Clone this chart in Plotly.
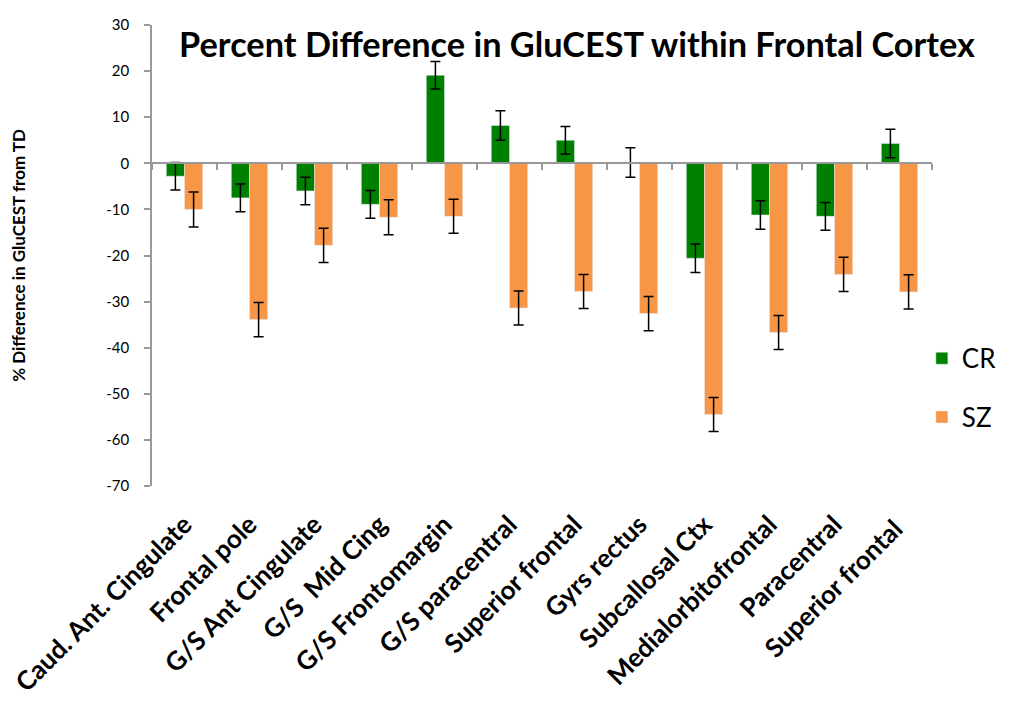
import plotly.graph_objects as go

categories = ["Caud. Ant. Cingulate", "Frontal pole", "G/S Ant Cingulate", "G/S  Mid Cing",
              "G/S Frontomargin", "G/S paracentral", "Superior frontal", "Gyrs rectus",
              "Subcallosal Ctx", "Medialorbitofrontal", "Paracentral", "Superior frontal "]
cr_values = [-2.8, -7.5, -6.0, -8.9, 19.1, 8.2, 5.0, 0.2, -20.6, -11.2, -11.5, 4.3]
cr_errors = [3.0, 3.0, 3.0, 3.0, 3.0, 3.2, 3.0, 3.2, 3.1, 3.1, 3.0, 3.1]
sz_values = [-10.0, -33.9, -17.8, -11.7, -11.5, -31.4, -27.8, -32.6, -54.5, -36.7, -24.1, -27.9]
sz_errors = [3.8, 3.7, 3.7, 3.8, 3.7, 3.7, 3.7, 3.7, 3.7, 3.7, 3.7, 3.7]
y_ticks = [30, 20, 10, 0, -10, -20, -30, -40, -50, -60, -70]
y_tick_text = ["30", "20", "10", "0", "-10", "-20", "-30", "-40", "-50", "-60", "-70"]

FONT = "Lato"
fig = go.Figure()
err_style = dict(type="data", color="black", thickness=1.5, width=5)
fig.add_trace(go.Bar(x=categories, y=cr_values, name="CR", marker_color="#008000",
                     error_y=dict(array=cr_errors, **err_style), legendgroup="a"))
fig.add_trace(go.Bar(x=categories, y=sz_values, name="SZ", marker_color="#F79646",
                     error_y=dict(array=sz_errors, **err_style), legendgroup="b"))
# helper trace for zero-line axis with boundary ticks
fig.add_trace(go.Scatter(x=categories, y=[0]*len(categories), xaxis="x2", mode="markers",
                         marker=dict(opacity=0), showlegend=False, hoverinfo="skip"))

fig.update_layout(
    width=1026, height=709,
    paper_bgcolor="white", plot_bgcolor="white",
    margin=dict(l=144, r=102, t=17, b=231, autoexpand=False),
    barmode="group", bargap=0.44, bargroupgap=0.0,
    font=dict(family=FONT, color="black"),
    title=dict(text="<b>Percent Difference in GluCEST within Frontal Cortex</b>",
               x=0.5546, xanchor="center", y=1 - 37/709, yanchor="middle",
               font=dict(size=34.3, family=FONT, color="black")),
    legend=dict(x=0.987, xanchor="left", y=0.328, yanchor="top",
                font=dict(size=26, family=FONT), tracegroupgap=22,
                traceorder="grouped", itemwidth=30, bgcolor="rgba(0,0,0,0)"),
    xaxis=dict(type="category", tickangle=-45, showline=False, automargin=False,
               ticks="outside", ticklen=12, tickcolor="rgba(0,0,0,0)",
               tickfont=dict(size=26, family=FONT, color="black"), showgrid=False,
               range=[-0.5, len(categories) - 0.5], tickprefix="<b>", ticksuffix="</b>"),
    xaxis2=dict(type="category", overlaying="x", anchor="free", position=0.7,
                matches="x", showline=True, linecolor="#999999", linewidth=1.5,
                ticks="outside", ticklen=6, tickcolor="#999999", tickwidth=1.5,
                tickson="boundaries", showticklabels=False, showgrid=False),
    yaxis=dict(range=[-70, 30], tickvals=y_ticks, ticktext=y_tick_text, showgrid=False,
               zeroline=False, automargin=False,
               showline=True, linecolor="#999999", linewidth=1.5,
               ticks="outside", ticklen=6, tickcolor="#999999", tickwidth=1.5,
               ticklabelstandoff=12,
               tickfont=dict(size=15, family=FONT, color="black"),
               title=dict(text="<b>% Difference in GluCEST from TD</b>",
                          font=dict(size=17, family=FONT, color="black"), standoff=79)),
)

fig.write_html("out.html")
